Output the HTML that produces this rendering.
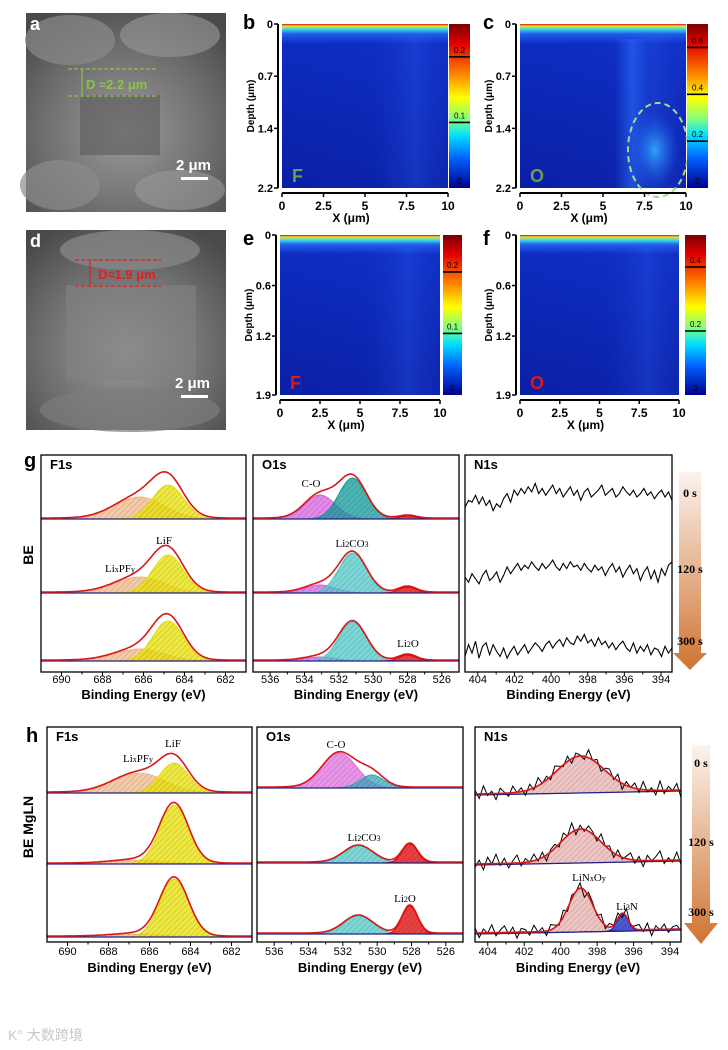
<!DOCTYPE html>
<html><head><meta charset="utf-8">
<style>
html,body{margin:0;padding:0;background:#fff;}
svg{display:block;font-family:"Liberation Sans",Arial,sans-serif;}
.t{font-family:"Liberation Sans",sans-serif;font-weight:bold;}
.s{font-family:"Liberation Serif",serif;}
</style></head>
<body>
<svg id="fig" width="728" height="1050" viewBox="0 0 728 1050" xmlns="http://www.w3.org/2000/svg">
<defs>
 <linearGradient id="jet" x1="0" y1="0" x2="0" y2="1">
  <stop offset="0" stop-color="#7a0000"/><stop offset="0.12" stop-color="#e00000"/>
  <stop offset="0.3" stop-color="#ff8000"/><stop offset="0.45" stop-color="#ffff00"/>
  <stop offset="0.58" stop-color="#80ff80"/><stop offset="0.68" stop-color="#00e0ff"/>
  <stop offset="0.82" stop-color="#0060ff"/><stop offset="1" stop-color="#000090"/>
 </linearGradient>
 <linearGradient id="hmv" x1="0" y1="0" x2="0" y2="1">
  <stop offset="0" stop-color="#d01010"/><stop offset="0.012" stop-color="#f0e020"/>
  <stop offset="0.03" stop-color="#40e0e0"/><stop offset="0.06" stop-color="#2060f0"/>
  <stop offset="0.12" stop-color="#0e2cc0"/><stop offset="1" stop-color="#0a20a4"/>
 </linearGradient>
 <linearGradient id="hmh" x1="0" y1="0" x2="1" y2="0">
  <stop offset="0" stop-color="#1a3cd8" stop-opacity="0"/><stop offset="0.55" stop-color="#1a3cd8" stop-opacity="0.1"/>
  <stop offset="0.8" stop-color="#2a5cf0" stop-opacity="0.35"/><stop offset="1" stop-color="#1a3cd8" stop-opacity="0.2"/>
 </linearGradient>
 <radialGradient id="blob" cx="0.5" cy="0.5" r="0.5">
  <stop offset="0" stop-color="#30b0ff" stop-opacity="0.9"/><stop offset="1" stop-color="#2060f0" stop-opacity="0"/>
 </radialGradient>
 <linearGradient id="streak" x1="0" y1="0" x2="1" y2="0">
  <stop offset="0" stop-color="#2a70ff" stop-opacity="0"/><stop offset="0.5" stop-color="#2a70ff" stop-opacity="0.55"/><stop offset="1" stop-color="#2a70ff" stop-opacity="0"/>
 </linearGradient>
 <radialGradient id="sem1" cx="0.5" cy="0.6" r="0.7">
  <stop offset="0" stop-color="#9a9a9a"/><stop offset="0.6" stop-color="#6e6e6e"/><stop offset="1" stop-color="#4a4a4a"/>
 </radialGradient>
 <linearGradient id="arrowg" x1="0" y1="0" x2="0" y2="1">
  <stop offset="0" stop-color="#fbf3ee"/><stop offset="1" stop-color="#cf7430"/>
 </linearGradient>
 <pattern id="hatch" width="4" height="4" patternUnits="userSpaceOnUse" patternTransform="rotate(45)">
  <line x1="0" y1="0" x2="0" y2="4" stroke="#000" stroke-width="0.6" stroke-opacity="0.35"/>
 </pattern>
</defs>

<g>
 <rect x="26" y="13" width="200" height="199" fill="url(#sem1)"/>
 <ellipse cx="70" cy="40" rx="45" ry="25" fill="#8a8a8a" opacity="0.7"/>
 <ellipse cx="170" cy="35" rx="50" ry="22" fill="#999" opacity="0.6"/>
 <ellipse cx="60" cy="185" rx="40" ry="25" fill="#8c8c8c" opacity="0.7"/>
 <ellipse cx="180" cy="190" rx="45" ry="20" fill="#9a9a9a" opacity="0.6"/>
 <rect x="80" y="95" width="80" height="60" fill="#5a5a5a" opacity="0.6"/>
 <text x="30" y="30" fill="#fff" class="t" font-size="18">a</text>
 <line x1="68" y1="69" x2="156" y2="69" stroke="#8bc34a" stroke-dasharray="4,2" stroke-width="1.3"/>
 <line x1="68" y1="96" x2="156" y2="96" stroke="#8bc34a" stroke-dasharray="4,2" stroke-width="1.3"/>
 <line x1="82" y1="70" x2="82" y2="95" stroke="#8bc34a" stroke-width="1.2"/>
 <text x="86" y="89" fill="#8bc34a" font-size="13" class="t">D ≈2.2 μm</text>
 <text x="176" y="170" fill="#fff" class="t" font-size="15">2 μm</text>
 <rect x="181" y="177" width="27" height="3" fill="#fff"/>
</g>
<g>
 <rect x="26" y="230" width="200" height="200" fill="url(#sem1)"/>
 <ellipse cx="130" cy="250" rx="70" ry="20" fill="#8a8a8a" opacity="0.7"/>
 <rect x="66" y="285" width="130" height="95" fill="#828282" opacity="0.6"/>
 <ellipse cx="130" cy="410" rx="90" ry="22" fill="#7c7c7c" opacity="0.7"/>
 <text x="30" y="247" fill="#fff" class="t" font-size="18">d</text>
 <line x1="75" y1="260" x2="161" y2="260" stroke="#e02020" stroke-dasharray="4,2" stroke-width="1.3"/>
 <line x1="75" y1="286" x2="161" y2="286" stroke="#e02020" stroke-dasharray="4,2" stroke-width="1.3"/>
 <line x1="90" y1="261" x2="90" y2="285" stroke="#e02020" stroke-width="1.2"/>
 <text x="98" y="279" fill="#e02020" font-size="13" class="t">D≈1.9 μm</text>
 <text x="175" y="388" fill="#fff" class="t" font-size="15">2 μm</text>
 <rect x="181" y="395" width="27" height="3" fill="#fff"/>
</g>

<g id="maps"></g>
<g id="xps"></g>

<text x="8" y="1040" fill="#c8c8c8" font-size="14" font-family="'Liberation Sans','Noto Sans CJK SC',sans-serif">K° 大数跨境</text>
</svg>

<script>
const mapLetters = ['b','c','e','f'];
const mapElements = ['F','O','F','O'];
const mapDepthTicks = [[0,0.7,1.4,2.2],[0,0.7,1.4,2.2],[0,0.6,1.2,1.9],[0,0.6,1.2,1.9]];
const mapXTicks = [0,2.5,5,7.5,10];
const mapCbarTicks = [[0.2,0.1,0],[0.6,0.4,0.2,0],[0.2,0.1,0],[0.4,0.2,0]];
const mapCbarMax = [0.25,0.7,0.26,0.5];

const gF1sCenters = [686.2, 684.8];
const gF1sSigmas = [1.2, 0.75];
const gF1sHeights = [[22,34],[16,38],[12,40]];
const gO1sCenters = [533.1, 531.2, 528.0];
const gO1sSigmas = [0.9, 0.8, 0.5];
const gO1sHeights = [[24,41,3],[8,40,6],[4,39,6]];
const gN1sRow1 = [-6,-2,-3,1,-4,0,-5,-2,-8,-4,-6,-1,2,-3,4,1,5,2,6,3,8,2,5,1,4,7,2,5,0,3,6,1,4,-2,3,5,0,2,4,7,1,3,5,0,2,6,3,1,4,0,2,5,1,3,-1,2,4,0,3,-2];
const gN1sRow2 = [-3,-6,-1,-4,-7,-2,1,-5,-3,0,-6,-2,3,-1,2,5,1,4,2,6,3,1,5,2,4,7,3,1,5,2,6,3,4,1,5,2,0,4,1,3,-2,2,5,0,3,-3,1,4,-1,2,-5,0,3,-4,1,-6,2,-2,4,6];
const gN1sRow3 = [-5,2,-3,4,-6,1,3,-4,2,-2,-5,0,-6,-2,1,-4,-1,2,-3,0,3,1,-2,2,4,0,3,5,1,6,3,2,7,4,8,3,5,1,6,2,4,0,3,-1,2,4,0,-2,3,-3,1,-2,2,-4,0,-1,-5,1,-3,0];
const hF1sCenters = [686.5, 684.8];
const hF1sSigmas = [1.25, 0.7];
const hF1sHeights = [[20,30],[4,59],[3,58]];
const hO1sCenters = [532.2, 530.3, 531.1, 528.1];
const hO1sSigmas = [1.0, 0.7, 0.85, 0.45];
const hO1sHeights = [[35,13,0,0],[0,0,17,19],[0,0,18,28]];
const hN1sCenters = [398.9, 396.6];
const hN1sSigmasRow = [[1.3,0.3],[1.1,0.3],[0.65,0.3]];
const hN1sHeights = [[36,0],[33,0],[43,17]];
const hN1sNoise1 = [2,-4,5,-2,1,-5,3,0,-3,4,-1,2,-4,3,-2,5,-1,2,-3,4,1,-2,3,-4,2,0,-3,5,-1,2,-4,1,3,-2,4,-5,2,-1,3,-3,5,-2,1,-4,6,-3,2,-1,4,-6];
const hN1sNoise2 = [-3,2,-5,4,-1,6,-2,3,-4,1,5,-3,2,-1,4,-2,3,-5,1,2,-3,4,-1,6,-4,2,-2,3,1,-3,5,-1,2,-4,3,-2,1,4,-3,2,-5,3,-1,2,6,-3,1,-2,5,-4];
const hN1sNoise3 = [3,-4,2,-1,5,-3,1,4,-2,3,-5,2,1,-3,4,-1,2,-4,3,1,-2,4,-3,2,-1,3,-6,2,1,-2,4,-3,2,-1,3,-4,5,-2,1,3,-2,4,-5,2,-1,3,-3,1,2,-2];

const NS='http://www.w3.org/2000/svg';
function el(tag, attrs, parent){const e=document.createElementNS(NS,tag);for(const k in attrs)e.setAttribute(k,attrs[k]);parent.appendChild(e);return e;}
function txt(str, attrs, parent){const e=el('text',attrs,parent);e.textContent=str;return e;}

const mapLayout = [
 {hx:282,hw:166,hy:24,hh:164,cx:449,cw:21,ax:278,xaY:193,lx:243,ly:24},
 {hx:520,hw:166,hy:24,hh:164,cx:687,cw:21,ax:516,xaY:193,lx:483,ly:24},
 {hx:280,hw:160,hy:235,hh:160,cx:443,cw:19,ax:276,xaY:400,lx:243,ly:240},
 {hx:520,hw:159,hy:235,hh:160,cx:685,cw:21,ax:516,xaY:400,lx:483,ly:240}];
const maps=document.getElementById('maps');
mapLetters.forEach((L,i)=>{
 const m=mapLayout[i];
 const g=el('g',{},maps);
 
 
 const r=el('rect',{x:m.hx,y:m.hy,width:m.hw,height:m.hh,fill:'url(#hmv)'},g);
 
 
 el('rect',{x:m.hx,y:m.hy+10,width:m.hw,height:m.hh-10,fill:'url(#hmh)'},g);
 if(L==='c'){
  el('rect',{x:m.hx+95,y:m.hy+15,width:35,height:m.hh-15,fill:'url(#streak)'},g);
  el('ellipse',{cx:655,cy:150,rx:24,ry:38,fill:'url(#blob)'},g);
  const ell=el('ellipse',{cx:658,cy:150,rx:30,ry:47,fill:'none',stroke:'#a8d890','stroke-width':2,'stroke-dasharray':'6,4'},g);
  
  
 }
 const cb=el('rect',{x:m.cx,y:m.hy,width:m.cw,height:m.hh,fill:'url(#jet)'},g);
 
 
 mapCbarTicks[i].forEach(v=>{
  const yy=m.hy+m.hh*(1-v/mapCbarMax[i]);
  if(v>0) el('line',{x1:m.cx,x2:m.cx+m.cw,y1:yy,y2:yy,stroke:'#000','stroke-width':1.6},g);
  const t=txt(String(v),{x:m.cx+m.cw/2,y:v>0?yy-4:m.hy+m.hh-4,'text-anchor':'middle','font-size':8,fill:'#000'},g);
  
  
 });
 el('line',{x1:m.ax,x2:m.ax,y1:m.hy,y2:m.hy+m.hh,stroke:'#000','stroke-width':2},g);
 const dt=mapDepthTicks[i]; const dmax=dt[dt.length-1];
 dt.forEach(v=>{
  const yy=m.hy+m.hh*v/dmax;
  el('line',{x1:m.ax-4,x2:m.ax,y1:yy,y2:yy,stroke:'#000','stroke-width':1.5},g);
  const t=txt(String(v),{x:m.ax-5,y:yy+4,'text-anchor':'end','font-size':11,class:'t'},g);
  
  
 });
 const yt=txt('Depth (μm)',{x:0,y:0,transform:`translate(${m.ax-24},${m.hy+m.hh/2}) rotate(-90)`,'text-anchor':'middle','font-size':10,class:'t'},g);
 
 
 el('line',{x1:m.hx,x2:m.hx+m.hw,y1:m.xaY,y2:m.xaY,stroke:'#000','stroke-width':2},g);
 mapXTicks.forEach(v=>{
  const xx=m.hx+m.hw*v/10;
  el('line',{x1:xx,x2:xx,y1:m.xaY,y2:m.xaY+4,stroke:'#000','stroke-width':1.5},g);
  const t=txt(String(v),{x:xx,y:m.xaY+17,'text-anchor':'middle','font-size':12,class:'t'},g);
  
  
 });
 const xt=txt('X (μm)',{x:m.hx+m.hw/2-14,y:m.xaY+29,'text-anchor':'middle','font-size':12,class:'t'},g);
 
 
 const lt=txt(L,{x:m.lx,y:m.ly+5,'font-size':20,class:'t'},g);
 
 
 const elc = i<2 ? '#6f9a4f' : '#e01818';
 const et=txt(mapElements[i],{x:m.hx+10,y:m.hy+m.hh-6,'font-size':18,fill:elc,class:'t'},g);
 
 
});

const xps=document.getElementById('xps');
function gauss(e,c,s){return Math.exp(-0.5*((e-c)/s)**2);}
function panelFrame(P,name,title){
 const g=el('g',{},xps);
 
 
 const sx=e=>P.x0+(P.emax-e)/(P.emax-P.emin)*(P.x1-P.x0);
 g._sx=sx;
 el('rect',{x:P.x0,y:P.y0,width:P.x1-P.x0,height:P.y1-P.y0,fill:'#fff'},g);
 const t=txt(title,{x:P.x0+9,y:P.y0+14,'font-size':13,class:'t'},g);
 
 
 return g;
}
function finishFrame(g,P,ticks,tickY,titleY){
 const sx=g._sx;
 el('rect',{x:P.x0,y:P.y0,width:P.x1-P.x0,height:P.y1-P.y0,fill:'none',stroke:'#000','stroke-width':1.3},g);
 ticks.forEach(v=>{
  const xx=sx(v);
  el('line',{x1:xx,x2:xx,y1:P.y1,y2:P.y1+4,stroke:'#000','stroke-width':1},g);
  const xm=sx(v-1);
  if(xm>P.x0&&xm<P.x1) el('line',{x1:xm,x2:xm,y1:P.y1,y2:P.y1+2.5,stroke:'#000','stroke-width':1},g);
  const t=txt(String(v),{x:xx,y:tickY,'text-anchor':'middle','font-size':11},g);
  
  
 });
 const at=txt('Binding Energy (eV)',{x:(P.x0+P.x1)/2,y:titleY,'text-anchor':'middle','font-size':13,class:'t'},g);
 
 
}
function drawFit(g,P,base,centers,sigmas,heights,colors,name,noise,slope){
 const sx=g._sx;const N=160;slope=slope||0;
 const bl=e=>base-slope*(P.emax-e)/(P.emax-P.emin);
 centers.forEach((c,k)=>{
  if(!heights[k]) return;
  let d=`M${sx(P.emax)},${bl(P.emax)}`;
  for(let j=0;j<=N;j++){const e=P.emax-(P.emax-P.emin)*j/N;d+=`L${sx(e).toFixed(1)},${(bl(e)-heights[k]*gauss(e,c,sigmas[k])).toFixed(1)}`;}
  d+=`L${sx(P.emin)},${bl(P.emin)}Z`;
  const p=el('path',{d:d,fill:colors[k],'fill-opacity':0.75,stroke:colors[k],'stroke-width':1},g);
  
  
  el('path',{d:d,fill:'url(#hatch)'},g);
 });
 el('line',{x1:P.x0,x2:P.x1,y1:bl(P.emax),y2:bl(P.emin),stroke:'#20208a','stroke-width':1.2},g);
 let d='';
 for(let j=0;j<=N;j++){const e=P.emax-(P.emax-P.emin)*j/N;let s=0;centers.forEach((c,k)=>{if(heights[k])s+=heights[k]*gauss(e,c,sigmas[k]);});d+=(j?'L':'M')+sx(e).toFixed(1)+','+(bl(e)-s-1).toFixed(1);}
 if(noise){
  let nd='';const M=noise.length;
  for(let j=0;j<M;j++){const e=P.emax-(P.emax-P.emin)*j/(M-1);let s=0;centers.forEach((c,k)=>{if(heights[k])s+=heights[k]*gauss(e,c,sigmas[k]);});nd+=(j?'L':'M')+sx(e).toFixed(1)+','+(bl(e)-s-noise[j]*1.4-2).toFixed(1);}
  const np=el('path',{d:nd,fill:'none',stroke:'#000','stroke-width':1},g);
  
  
 }
 const env=el('path',{d:d,fill:'none',stroke:'#d81818','stroke-width':1.6},g);
 
 
}
function drawNoise(g,P,center,vals,name){
 const sx=g._sx;let d='';
 vals.forEach((v,j)=>{const e=P.emax-(P.emax-P.emin)*j/(vals.length-1);d+=(j?'L':'M')+sx(e).toFixed(1)+','+(center-v*1.7).toFixed(1);});
 const p=el('path',{d:d,fill:'none',stroke:'#000','stroke-width':1.1},g);
 
 
}
function label(g,s,x,y,name,size){
 const t=el('text',{x:x,y:y,'font-size':size||11,class:'s','text-anchor':'middle'},g);
 t.innerHTML=s;
 
 
}
function arrow(x,top,headY,tip,w,hw,times,name){
 const g=el('g',{},xps);
 
 
 el('path',{d:`M${x-w/2},${top}H${x+w/2}V${headY}H${x+hw/2}L${x},${tip}L${x-hw/2},${headY}H${x-w/2}Z`,fill:'url(#arrowg)'},g);
 times.forEach(([s,y])=>{const t=txt(s,{x:x,y:y,'text-anchor':'middle','font-size':12,'font-weight':'bold',class:'s'},g);
  
  });
}

const gBases=[519,593,661], gN1Centers=[497,572,648];
const PgF={x0:41,x1:246,y0:455,y1:672,emax:691,emin:681};
const PgO={x0:253,x1:459,y0:455,y1:672,emax:537,emin:525};
const PgN={x0:465,x1:672,y0:455,y1:672,emax:404.7,emin:393.4};
let g1=panelFrame(PgF,'xps-g-f1s','F1s');
gF1sHeights.forEach((h,r)=>drawFit(g1,PgF,gBases[r],gF1sCenters,gF1sSigmas,h,['#f2b88a','#e8e000'],'g-f1s-row'+(r+1)));
label(g1,'LiF',164,544,'peak-label-lif');
label(g1,'Li<tspan font-size="8">x</tspan>PF<tspan font-size="8">y</tspan>',120,572,'peak-label-lixpfy');
finishFrame(g1,PgF,[690,688,686,684,682],683,699);
let g2=panelFrame(PgO,'xps-g-o1s','O1s');
gO1sHeights.forEach((h,r)=>drawFit(g2,PgO,gBases[r],gO1sCenters,gO1sSigmas,h,[ '#d860e0', r===0?'#109a9a':'#50c8c8','#e00000'],'g-o1s-row'+(r+1)));
label(g2,'C-O',311,487,'peak-label-co');
label(g2,'Li<tspan font-size="8">2</tspan>CO<tspan font-size="8">3</tspan>',352,547,'peak-label-li2co3');
label(g2,'Li<tspan font-size="8">2</tspan>O',408,647,'peak-label-li2o');
finishFrame(g2,PgO,[536,534,532,530,528,526],683,699);
let g3=panelFrame(PgN,'xps-g-n1s','N1s');
drawNoise(g3,PgN,gN1Centers[0],gN1sRow1,'g-n1s-0s');
drawNoise(g3,PgN,gN1Centers[1],gN1sRow2,'g-n1s-120s');
drawNoise(g3,PgN,gN1Centers[2],gN1sRow3,'g-n1s-300s');
finishFrame(g3,PgN,[404,402,400,398,396,394],683,699);
arrow(690,472,653,670,22,34,[['0 s',497],['120 s',573],['300 s',645]],'time-arrow-g');
let lg=txt('g',{x:24,y:467,'font-size':20,class:'t'},xps);


let be=txt('BE',{x:0,y:0,transform:'translate(33,555) rotate(-90)','text-anchor':'middle','font-size':14,class:'t'},xps);



const PhF={x0:47,x1:252,y0:727,y1:942,emax:691,emin:681};
const PhO={x0:257,x1:463,y0:727,y1:942,emax:537,emin:525};
const PhN={x0:475,x1:681,y0:727,y1:942,emax:404.7,emin:393.4};
const hFBases=[793,864,937], hOBases=[788,863,934], hNBases=[795,865,934];
let h1=panelFrame(PhF,'xps-h-f1s','F1s');
hF1sHeights.forEach((h,r)=>drawFit(h1,PhF,hFBases[r],hF1sCenters,hF1sSigmas,h,['#f2b88a','#e8e000'],'h-f1s-row'+(r+1)));
label(h1,'LiF',173,747,'peak-label-lif');
label(h1,'Li<tspan font-size="8">x</tspan>PF<tspan font-size="8">y</tspan>',138,762,'peak-label-lixpfy');
finishFrame(h1,PhF,[690,688,686,684,682],955,972);
let h2=panelFrame(PhO,'xps-h-o1s','O1s');
hO1sHeights.forEach((h,r)=>drawFit(h2,PhO,hOBases[r],hO1sCenters,hO1sSigmas,h,['#e070e0','#3aa8b8','#50c8c8','#e00000'],'h-o1s-row'+(r+1)));
label(h2,'C-O',336,748,'peak-label-co');
label(h2,'Li<tspan font-size="8">2</tspan>CO<tspan font-size="8">3</tspan>',364,841,'peak-label-li2co3');
label(h2,'Li<tspan font-size="8">2</tspan>O',405,902,'peak-label-li2o');
finishFrame(h2,PhO,[536,534,532,530,528,526],955,972);
let h3=panelFrame(PhN,'xps-h-n1s','N1s');
const hNoises=[hN1sNoise1,hN1sNoise2,hN1sNoise3];
hN1sHeights.forEach((h,r)=>drawFit(h3,PhN,hNBases[r],hN1sCenters,hN1sSigmasRow[r],h,['#e8b0b0','#1020c0'],'h-n1s-row'+(r+1),hNoises[r],4));
label(h3,'LiN<tspan font-size="8">x</tspan>O<tspan font-size="8">y</tspan>',589,881,'peak-label-linxoy');
label(h3,'Li<tspan font-size="8">3</tspan>N',627,910,'peak-label-li3n');
finishFrame(h3,PhN,[404,402,400,398,396,394],955,972);
arrow(701,745,923,944,18,34,[['0 s',767],['120 s',846],['300 s',916]],'time-arrow-h');
let lh=txt('h',{x:26,y:742,'font-size':20,class:'t'},xps);


let bem=txt('BE MgLN',{x:0,y:0,transform:'translate(33,827) rotate(-90)','text-anchor':'middle','font-size':14,class:'t'},xps);


</script>
</body></html>
